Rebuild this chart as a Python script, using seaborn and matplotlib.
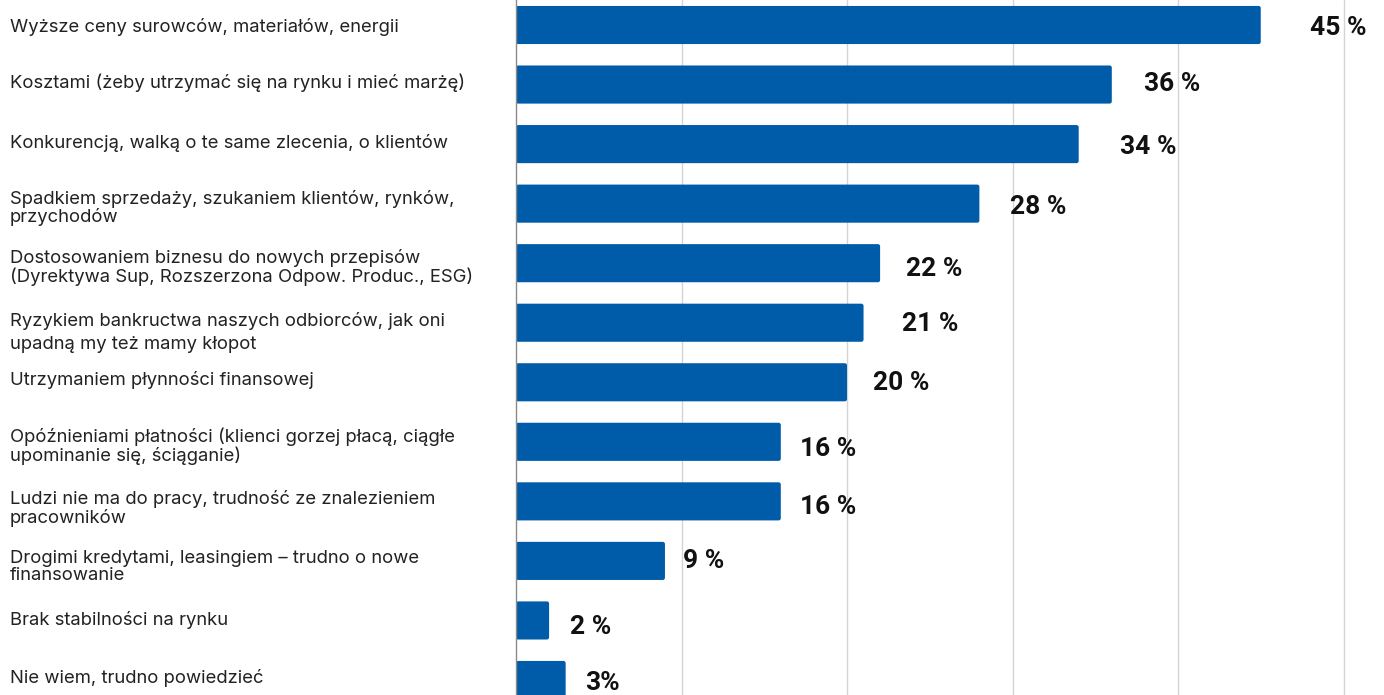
import matplotlib
matplotlib.use("Agg")
import matplotlib.pyplot as plt
from matplotlib.patches import FancyBboxPatch
from matplotlib.transforms import ScaledTranslation
import seaborn as sns
import pandas as pd

# Survey answers and share of respondents (%)
categories = [
    "Wyższe ceny surowców, materiałów, energii",
    "Kosztami (żeby utrzymać się na rynku i mieć marżę)",
    "Konkurencją, walką o te same zlecenia, o klientów",
    "Spadkiem sprzedaży, szukaniem klientów, rynków,\nprzychodów",
    "Dostosowaniem biznesu do nowych przepisów\n(Dyrektywa Sup, Rozszerzona Odpow. Produc., ESG)",
    "Ryzykiem bankructwa naszych odbiorców, jak oni\nupadną my też mamy kłopot",
    "Utrzymaniem płynności finansowej",
    "Opóźnieniami płatności (klienci gorzej płacą, ciągłe\nupominanie się, ściąganie)",
    "Ludzi nie ma do pracy, trudność ze znalezieniem\npracowników",
    "Drogimi kredytami, leasingiem – trudno o nowe\nfinansowanie",
    "Brak stabilności na rynku",
    "Nie wiem, trudno powiedzieć",
]
values = [45, 36, 34, 28, 22, 21, 20, 16, 16, 9, 2, 3]
value_suffix = [" %"] * 11 + ["%"]

# Small per-label nudges (pixels, positive = right / down)
label_dx_px = [49, 32, 41, 31, 26, 38, 26, 19, 19, 18, 21, 19]
label_dy_px = [3, -1, 3, 3, 6, 1, 1, 7, 6, 0, 7, 3]
category_dy_px = [0, -4, -3, 2, 2, 5, -4, 2, 5, 4, -2, -4]

BAR_COLOR = "#005CA9"
GRID_COLOR = "#d4d4d4"

sns.set_theme(style="white")
plt.rcParams["font.family"] = ["Inter", "DejaVu Sans"]

W, H, DPI = 1384, 695, 100
fig = plt.figure(figsize=(W / DPI, H / DPI), dpi=DPI)
ax_left = 516 / W
ax = fig.add_axes([ax_left, 0, 1 - ax_left, 1])

df = pd.DataFrame({"kategoria": categories, "procent": values})
sns.barplot(data=df, x="procent", y="kategoria", orient="h",
            color=BAR_COLOR, saturation=1, width=0.64, ax=ax)

px_per_unit_x = 16.55
px_per_row = 59.55
ax.set_xlim(0, (W - 516) / px_per_unit_x)
ax.set_ylim(11 + 15 / px_per_row, -25 / px_per_row)

# Rounded bar corners
r_x = 2.2 / px_per_unit_x
for p in list(ax.patches):
    x0, y0 = p.get_x(), p.get_y()
    w, h = p.get_width(), p.get_height()
    fb = FancyBboxPatch((x0, y0), w, h,
                        boxstyle=f"round,pad=0,rounding_size={r_x}",
                        mutation_aspect=(px_per_unit_x / px_per_row),
                        facecolor=BAR_COLOR, edgecolor="none", zorder=2)
    p.remove()
    ax.add_patch(fb)

# Grid and spines
ax.set_xticks([10, 20, 30, 40, 50])
ax.xaxis.grid(True, color=GRID_COLOR, linewidth=1.0, zorder=0)
ax.set_axisbelow(True)
for s in ["top", "right", "bottom"]:
    ax.spines[s].set_visible(False)
ax.spines["left"].set_color("#8a8a8a")
ax.spines["left"].set_linewidth(1.0)
ax.tick_params(axis="x", length=0, labelbottom=False)
ax.tick_params(axis="y", length=0, pad=(516 - 10) * 72 / DPI)
ax.set_xlabel("")
ax.set_ylabel("")

for lab, dy in zip(ax.get_yticklabels(), category_dy_px):
    lab.set_horizontalalignment("left")
    lab.set_fontsize(13.3)
    lab.set_color("#222222")
    lab.set_linespacing(1.02)
    if lab.get_text().startswith("Ryzykiem"):
        lab.set_linespacing(1.45)
    lab.set_transform(lab.get_transform() +
                      ScaledTranslation(0, -dy / DPI, fig.dpi_scale_trans))

# Value annotations
for i, (v, suf) in enumerate(zip(values, value_suffix)):
    ax.annotate(f"{v}{suf}", xy=(v, i), xytext=(label_dx_px[i] * 72 / DPI, -label_dy_px[i] * 72 / DPI),
                textcoords="offset points", ha="left", va="center",
                fontsize=19, fontweight="bold", color="#111111",
                family=["Roboto", "DejaVu Sans"])

fig.savefig("out.png", dpi=DPI)
